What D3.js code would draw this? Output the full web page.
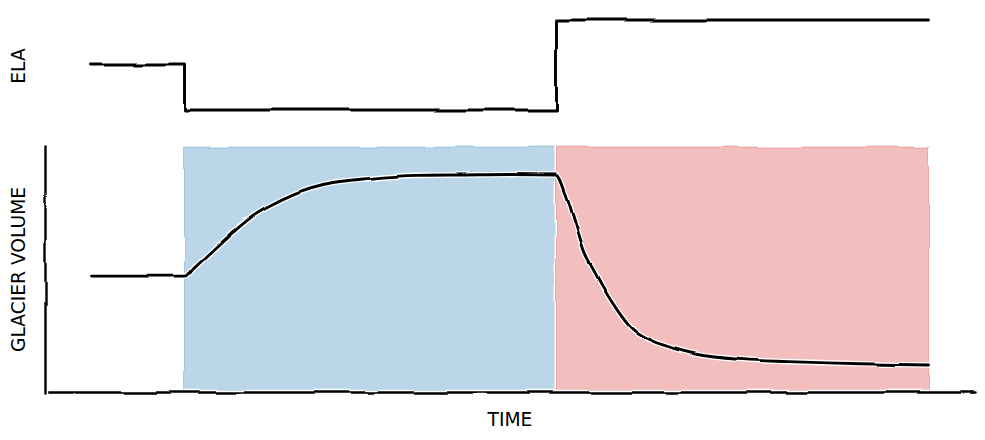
<!DOCTYPE html>
<html>
<head>
<meta charset="utf-8">
<script src="https://cdn.jsdelivr.net/npm/d3@7"></script>
<style>
  html, body { margin: 0; padding: 0; background: #fff; }
  svg { display: block; }
  text { font-family: "DejaVu Sans", sans-serif; font-size: 18.67px; fill: #000; }
</style>
</head>
<body>
<svg id="chart" width="985" height="440"></svg>
<script>
// ---- data ----
const elaTime  = [0, 1, 1, 5, 5, 9];
const elaValue = [0.5, 0.5, 0, 0, 1, 1];

const volTime  = [0, 1, 1.1, 1.25, 1.5, 1.75, 2, 2.25, 2.5, 3, 3.5, 4, 4.5, 5,
                  5.1, 5.2, 5.3, 5.4, 5.5, 5.65, 5.8, 6, 6.25, 6.5, 7, 7.5, 8, 8.5, 9];
const volValue = [0.473, 0.473, 0.508, 0.561, 0.648, 0.725, 0.778, 0.82, 0.848, 0.872, 0.884, 0.886, 0.888, 0.886,
                  0.81, 0.69, 0.57, 0.497, 0.427, 0.336, 0.262, 0.213, 0.18, 0.155, 0.132, 0.124, 0.118, 0.113, 0.11];

const periodStart = [1, 5];
const periodEnd   = [5, 9];

const axisLabels = { top: "ELA", bottom: "GLACIER VOLUME", x: "TIME" };

// ---- styles ----
const periodColors = ["#1f77b4", "#d62728"];

const svg = d3.select("#chart");
const W = 985, H = 440;

const defs = svg.append("defs");
const filt = defs.append("filter").attr("id", "wiggle")
  .attr("filterUnits", "userSpaceOnUse")
  .attr("x", 0).attr("y", 0).attr("width", W).attr("height", H)
  .attr("color-interpolation-filters", "sRGB");
filt.append("feTurbulence").attr("type", "fractalNoise")
  .attr("baseFrequency", 0.022).attr("numOctaves", 1).attr("seed", 2).attr("result", "noise");
filt.append("feDisplacementMap").attr("in", "SourceGraphic").attr("in2", "noise")
  .attr("scale", 5).attr("xChannelSelector", "R").attr("yChannelSelector", "G").attr("result", "disp");
filt.append("feGaussianBlur").attr("in", "disp").attr("stdDeviation", 0.45);

// scales
const x = d3.scaleLinear().domain([-0.5, 9.5]).range([45, 975]);
const yVol = d3.scaleLinear().domain([0, 1]).range([392, 147]);
const yEla = d3.scaleLinear().domain([0, 1]).range([110, 20]);

const marks = svg.append("g").attr("filter", "url(#wiggle)");

// period fills
periodStart.forEach((s, i) => {
  const e = periodEnd[i];
  const r = {x: x(s), y: yVol(1), w: x(e) - x(s), h: yVol(0) - yVol(1)};
  marks.append("rect").attr("x", r.x).attr("y", r.y).attr("width", r.w).attr("height", r.h)
    .attr("fill", "none").attr("stroke", "#fff").attr("stroke-width", 4);
  marks.append("rect").attr("x", r.x).attr("y", r.y).attr("width", r.w).attr("height", r.h)
    .attr("fill", periodColors[i]).attr("fill-opacity", 0.3)
    .attr("stroke", periodColors[i]).attr("stroke-opacity", 0.3).attr("stroke-width", 1);
});

// lines
const elaLine = d3.line().x(d => x(d[0])).y(d => yEla(d[1]));
const volLine = d3.line().x(d => x(d[0])).y(d => yVol(d[1])).curve(d3.curveMonotoneX);
const elaData = elaTime.map((t, i) => [t, elaValue[i]]);
const volData = volTime.map((t, i) => [t, volValue[i]]);

function haloPath(g, d, w) {
  g.append("path").attr("d", d).attr("fill", "none").attr("stroke", "#fff")
    .attr("stroke-width", w + 2.7).attr("stroke-linejoin", "round").attr("stroke-linecap", "round");
  g.append("path").attr("d", d).attr("fill", "none").attr("stroke", "#000")
    .attr("stroke-width", w).attr("stroke-linejoin", "round").attr("stroke-linecap", "round");
}
haloPath(marks, elaLine(elaData), 2.9);
haloPath(marks, volLine(volData), 2.9);

// spines via d3 axes (no ticks)
function spine(axisGen, transform) {
  [["#fff", 5.5], ["#000", 2.4]].forEach(([c, w]) => {
    const g = marks.append("g").attr("transform", transform).call(axisGen);
    g.selectAll("text").remove();
    g.select(".domain").attr("stroke", c).attr("stroke-width", w).attr("stroke-linecap", "round");
  });
}
spine(d3.axisBottom(x).tickValues([]).tickSizeOuter(0), `translate(0,${yVol(0)})`);
spine(d3.axisLeft(yVol).tickValues([]).tickSizeOuter(0), `translate(${x.range()[0]},0)`);

// labels
svg.append("text").attr("transform", "translate(25,66) rotate(-90)")
  .attr("text-anchor", "middle").text(axisLabels.top);
svg.append("text").attr("transform", `translate(25,${(yVol(0) + yVol(1)) / 2}) rotate(-90)`)
  .attr("text-anchor", "middle").text(axisLabels.bottom);
svg.append("text").attr("x", (x.range()[0] + x.range()[1]) / 2).attr("y", 426)
  .attr("text-anchor", "middle").text(axisLabels.x);
</script>
</body>
</html>
